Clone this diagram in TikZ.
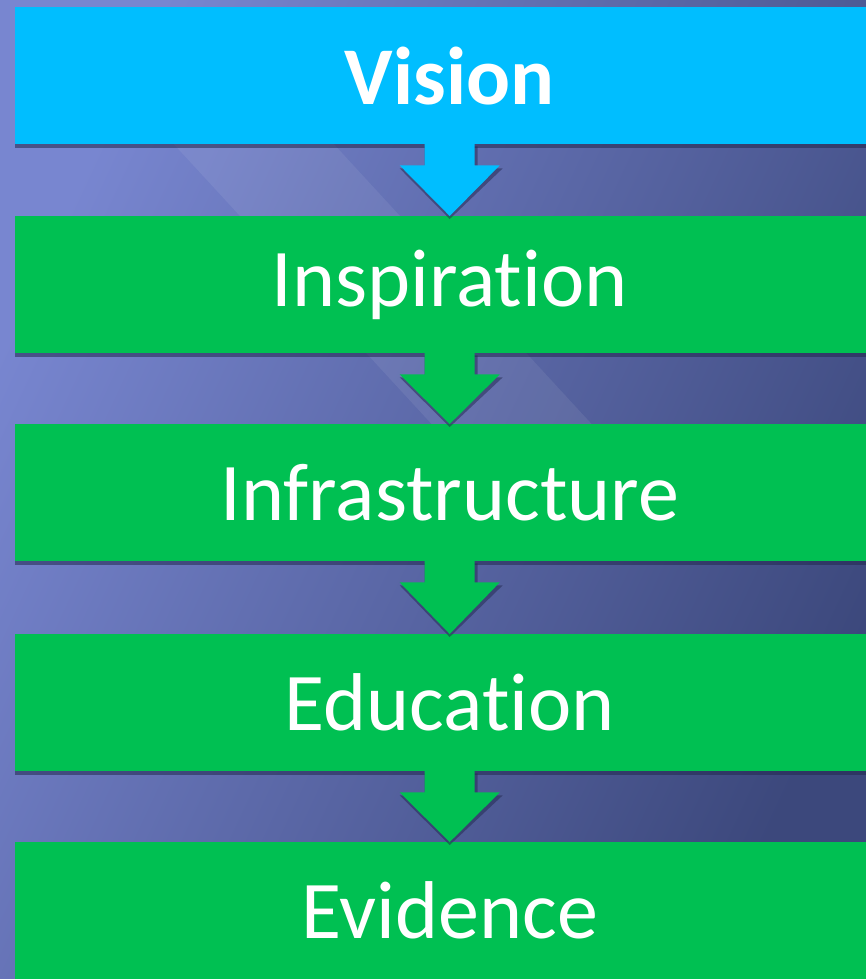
\documentclass[tikz,border=0pt]{standalone}
\usepackage{fontspec}
\setmainfont[Ligatures=NoCommon]{Carlito}
\usetikzlibrary{calc}
\definecolor{visioncol}{RGB}{0,190,255}
\definecolor{greencol}{RGB}{0,192,82}
\definecolor{bgA}{RGB}{120,134,208}
\definecolor{bgB}{RGB}{86,99,162}
\definecolor{bgC}{RGB}{60,72,124}
\definecolor{shadowcol}{RGB}{34,40,78}
\tikzset{
  stage/.style={anchor=north west, minimum width=869pt, minimum height=137pt,
    inner sep=0pt, text=white, font=\fontsize{82}{90}\selectfont},
  boxshadow/.style={fill=shadowcol, opacity=0.55},
  arrowshadow/.style={fill=shadowcol, opacity=0.5},
}
\begin{document}
\begin{tikzpicture}[x=1pt,y=-1pt]
\useasboundingbox (0,0) rectangle (866,979);
\clip (0,0) rectangle (866,979);
% background
\begin{scope}[y=1pt]
\shade[left color=bgA, middle color=bgB, right color=bgC, shading angle=65] (0,-979) rectangle (866,0);
\end{scope}
\fill[white, opacity=0.07] (170,140) -- (330,140) -- (680,520) -- (520,520) -- cycle;
% box shadows
\foreach \t in {7,216,424,634,842}{
  \fill[boxshadow] (15,\t+4) rectangle (884,\t+141);
}
% boxes
\node[stage, fill=visioncol, font=\fontsize{82}{90}\selectfont\bfseries] (v) at (15,7) {Vision};
\node[stage, fill=greencol] (insp) at (15,216) {Inspiration};
\node[stage, fill=greencol] (infr) at (15,424) {Infrastructure};
\node[stage, fill=greencol] (edu) at (15,634) {Education};
\node[stage, fill=greencol] (evi) at (15,842) {Evidence};
% arrows
\foreach \a/\b/\c in {v/insp/visioncol, insp/infr/greencol, infr/edu/greencol, edu/evi/greencol}{
  \fill[arrowshadow] ($(\a.south)+(-25,2)$) -- ($(\a.south)+(-25,24)$) -- ($(\a.south)+(-50,24)$)
     -- ($(\b.north)+(0,3)$) -- ($(\a.south)+(53,24)$) -- ($(\a.south)+(28,24)$) -- ($(\a.south)+(28,2)$) -- cycle;
  \fill[\c] ($(\a.south)+(-25,-2)$) -- ($(\a.south)+(-25,21)$) -- ($(\a.south)+(-50,21)$)
     -- (\b.north) -- ($(\a.south)+(50,21)$) -- ($(\a.south)+(25,21)$) -- ($(\a.south)+(25,-2)$) -- cycle;
}
\end{tikzpicture}
\end{document}
